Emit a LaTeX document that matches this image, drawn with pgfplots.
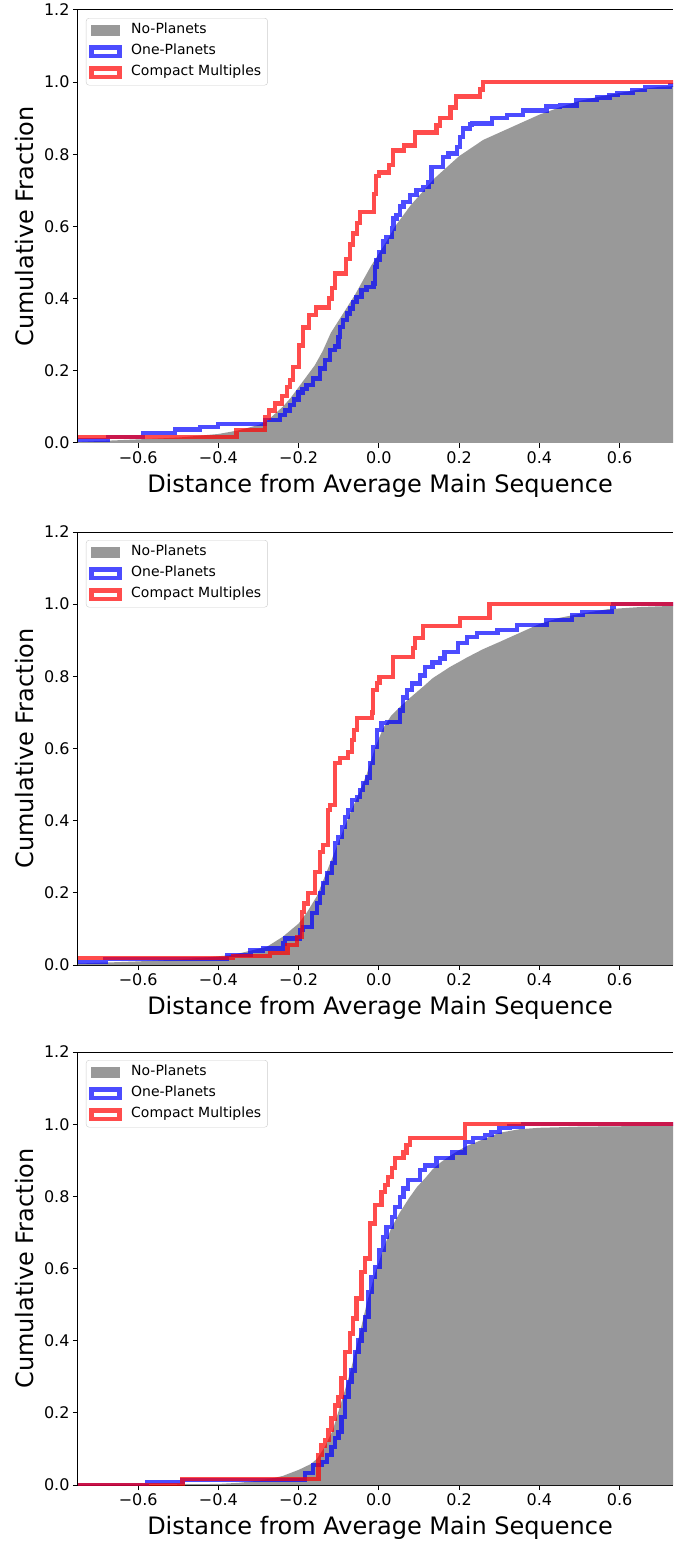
\documentclass[border=0pt]{standalone}
\usepackage{fontspec}
\setmainfont{DejaVu Sans}
\usepackage{pgfplots}
\pgfplotsset{compat=1.18}

\definecolor{npgray}{RGB}{153,153,153}
\definecolor{legframe}{RGB}{204,204,204}

% one panel = one axis, 1pt here is one pixel of the reference
\pgfplotsset{
  cdfpanel/.style={
    scale only axis, width=595pt, height=433pt,
    xmin=-0.75, xmax=0.733, ymin=0, ymax=1.2,
    axis x line*=box, axis y line*=left,
    axis line style={black, line width=1pt, -},
    xtick={-0.6,-0.4,-0.2,0,0.2,0.4,0.6},
    xticklabels={−0.6,−0.4,−0.2,0.0,0.2,0.4,0.6},
    ytick={0,0.2,0.4,0.6,0.8,1.0,1.2},
    yticklabels={0.0,0.2,0.4,0.6,0.8,1.0,1.2},
    xtick pos=lower, ytick pos=left,
    tick align=outside, major tick length=5pt,
    every tick/.style={black, line width=1pt},
    tick label style={font=\fontsize{16}{19}\selectfont},
    xlabel={Distance from Average Main Sequence},
    ylabel={Cumulative Fraction},
    label style={font=\fontsize{24}{29}\selectfont},
    xlabel style={at={(axis description cs:0.5076,-0.1132)}, anchor=base},
    ylabel style={at={(axis description cs:-0.089,0.5)}, anchor=center},
    legend cell align=left,
    legend style={at={(axis description cs:0.0134,0.9815)}, anchor=north west,
      draw=legframe, fill=white, rounded corners=3pt,
      font=\fontsize{14}{17}\selectfont,
      nodes={inner sep=3.5pt, text height=9.5pt, text depth=4.5pt},
      /tikz/every odd column/.append style={column sep=6pt}},
  },
  noplan/.style={draw=none, fill=npgray,
    legend image code/.code={\fill[npgray, sharp corners] (0pt,-5.5pt) rectangle (29pt,5.5pt);}},
  oneplan/.style={const plot, mark=none, blue, opacity=0.7, line width=4.5pt, line join=miter,
    legend image code/.code={\draw[blue, opacity=0.7, line width=4.5pt, sharp corners] (0.5pt,-4.25pt) rectangle (28.5pt,4.25pt);}},
  compact/.style={const plot, mark=none, red, opacity=0.7, line width=4.5pt, line join=miter,
    legend image code/.code={\draw[red, opacity=0.7, line width=4.5pt, sharp corners] (0.5pt,-4.25pt) rectangle (28.5pt,4.25pt);}},
}

\begin{document}
\begin{tikzpicture}

% ---------------- top panel ----------------
\begin{axis}[cdfpanel]
\addplot[noplan] coordinates {
(-0.75,0.003) (-0.6,0.01) (-0.5,0.015) (-0.4,0.025) (-0.35,0.035) (-0.3,0.05)
(-0.28,0.06) (-0.26,0.08) (-0.24,0.10) (-0.22,0.125) (-0.2,0.155) (-0.18,0.185)
(-0.16,0.215) (-0.14,0.255) (-0.12,0.305) (-0.1,0.34) (-0.08,0.375) (-0.06,0.41)
(-0.04,0.45) (-0.02,0.49) (0.0,0.525) (0.02,0.56) (0.04,0.60) (0.06,0.63)
(0.08,0.66) (0.1,0.685) (0.12,0.71) (0.14,0.735) (0.16,0.755) (0.18,0.775)
(0.2,0.795) (0.22,0.81) (0.24,0.825) (0.26,0.84) (0.3,0.86) (0.35,0.885)
(0.4,0.91) (0.45,0.93) (0.5,0.948) (0.55,0.96) (0.6,0.97) (0.65,0.98)
(0.7,0.987) (0.75,0.99)
} \closedcycle;
\addlegendentry{No-Planets}
\addplot[oneplan] coordinates {
(-0.75,0.008) (-0.675,0.017) (-0.588,0.028) (-0.508,0.038) (-0.446,0.045) (-0.401,0.052)
(-0.284,0.064) (-0.247,0.078) (-0.234,0.09) (-0.222,0.105) (-0.212,0.12) (-0.200,0.14)
(-0.190,0.15) (-0.180,0.161) (-0.164,0.179) (-0.147,0.207) (-0.134,0.230) (-0.122,0.258)
(-0.110,0.267) (-0.101,0.294) (-0.097,0.322) (-0.089,0.341) (-0.080,0.359) (-0.072,0.373)
(-0.064,0.391) (-0.056,0.405) (-0.043,0.424) (-0.031,0.433) (-0.014,0.442) (-0.010,0.488)
(-0.006,0.507) (0.002,0.530) (0.011,0.558) (0.019,0.571) (0.032,0.595) (0.036,0.622)
(0.044,0.632) (0.052,0.655) (0.061,0.668) (0.077,0.687) (0.094,0.701) (0.110,0.710)
(0.123,0.724) (0.131,0.765) (0.160,0.793) (0.173,0.802) (0.194,0.821) (0.202,0.848)
(0.210,0.872) (0.227,0.882) (0.232,0.886) (0.282,0.900) (0.319,0.909) (0.359,0.922)
(0.418,0.932) (0.451,0.936) (0.493,0.950) (0.543,0.957) (0.575,0.964) (0.595,0.970)
(0.632,0.978) (0.663,0.987) (0.725,0.992) (0.75,0.992)
};
\addlegendentry{One-Planets}
\addplot[compact] coordinates {
(-0.75,0.017) (-0.355,0.036) (-0.284,0.07) (-0.274,0.09) (-0.259,0.11) (-0.242,0.13)
(-0.229,0.155) (-0.222,0.175) (-0.214,0.21) (-0.199,0.27) (-0.189,0.32) (-0.174,0.355)
(-0.157,0.375) (-0.125,0.40) (-0.117,0.43) (-0.110,0.47) (-0.082,0.51) (-0.072,0.55)
(-0.065,0.58) (-0.055,0.61) (-0.047,0.64) (-0.012,0.69) (-0.007,0.74) (0.000,0.75)
(0.025,0.77) (0.035,0.81) (0.062,0.825) (0.090,0.86) (0.144,0.88) (0.152,0.90)
(0.179,0.93) (0.192,0.96) (0.252,0.98) (0.259,1.0) (0.75,1.0)
};
\addlegendentry{Compact Multiples}
\end{axis}

% ---------------- middle panel ----------------
\begin{axis}[cdfpanel, at={(0pt,-522pt)}]
\addplot[noplan] coordinates {
(-0.75,0.004) (-0.6,0.01) (-0.5,0.015) (-0.42,0.022) (-0.364,0.028) (-0.3,0.045)
(-0.28,0.05) (-0.24,0.078) (-0.2,0.115) (-0.18,0.145) (-0.155,0.19) (-0.135,0.245)
(-0.115,0.30) (-0.09,0.37) (-0.072,0.42) (-0.05,0.475) (-0.03,0.53) (-0.01,0.60)
(0.01,0.655) (0.03,0.69) (0.052,0.715) (0.075,0.738) (0.095,0.757) (0.115,0.776)
(0.134,0.795) (0.155,0.81) (0.177,0.826) (0.2,0.84) (0.219,0.852) (0.259,0.875)
(0.3,0.895) (0.35,0.92) (0.4,0.945) (0.45,0.962) (0.5,0.973) (0.57,0.986)
(0.65,0.992) (0.75,0.996)
} \closedcycle;
\addlegendentry{No-Planets}
\addplot[oneplan] coordinates {
(-0.75,0.009) (-0.682,0.016) (-0.379,0.028) (-0.320,0.04) (-0.289,0.046) (-0.239,0.06)
(-0.234,0.074) (-0.197,0.097) (-0.189,0.105) (-0.167,0.144) (-0.154,0.172) (-0.147,0.2)
(-0.139,0.227) (-0.129,0.255) (-0.117,0.283) (-0.110,0.338) (-0.102,0.355) (-0.092,0.382)
(-0.085,0.41) (-0.077,0.43) (-0.067,0.457) (-0.055,0.466) (-0.047,0.485) (-0.040,0.504)
(-0.030,0.52) (-0.022,0.56) (-0.015,0.604) (-0.005,0.651) (0.007,0.67) (0.020,0.673)
(0.052,0.706) (0.060,0.742) (0.070,0.762) (0.082,0.78) (0.102,0.803) (0.115,0.826)
(0.134,0.839) (0.152,0.85) (0.164,0.867) (0.197,0.892) (0.219,0.909) (0.244,0.92)
(0.296,0.928) (0.344,0.942) (0.418,0.956) (0.481,0.97) (0.508,0.978) (0.581,0.992)
(0.585,1.0) (0.75,1.0)
};
\addlegendentry{One-Planets}
\addplot[compact] coordinates {
(-0.75,0.02) (-0.364,0.025) (-0.272,0.033) (-0.228,0.055) (-0.204,0.078) (-0.192,0.147)
(-0.187,0.17) (-0.177,0.2) (-0.159,0.258) (-0.147,0.313) (-0.139,0.332) (-0.127,0.43)
(-0.122,0.443) (-0.110,0.56) (-0.097,0.573) (-0.077,0.59) (-0.067,0.623) (-0.062,0.651)
(-0.055,0.684) (-0.017,0.70) (-0.015,0.762) (-0.005,0.781) (0.002,0.798) (0.035,0.853)
(0.085,0.878) (0.090,0.906) (0.110,0.94) (0.202,0.961) (0.276,1.0) (0.75,1.0)
};
\addlegendentry{Compact Multiples}
\end{axis}

% ---------------- bottom panel ----------------
\begin{axis}[cdfpanel, at={(0pt,-1042pt)}]
\addplot[noplan] coordinates {
(-0.75,0.0) (-0.4,0.003) (-0.35,0.006) (-0.3,0.012) (-0.26,0.02) (-0.24,0.025)
(-0.2,0.042) (-0.17,0.058) (-0.155,0.072) (-0.135,0.105) (-0.115,0.152) (-0.095,0.225)
(-0.072,0.31) (-0.05,0.41) (-0.03,0.504) (-0.01,0.585) (0.01,0.651) (0.03,0.71)
(0.052,0.755) (0.075,0.795) (0.095,0.826) (0.115,0.85) (0.134,0.875) (0.155,0.895)
(0.177,0.912) (0.2,0.928) (0.22,0.94) (0.26,0.958) (0.3,0.976) (0.35,0.986)
(0.4,0.99) (0.5,0.993) (0.75,0.996)
} \closedcycle;
\addlegendentry{No-Planets}
\addplot[oneplan] coordinates {
(-0.75,0.0) (-0.578,0.009) (-0.49,0.014) (-0.184,0.033) (-0.164,0.055) (-0.142,0.064)
(-0.130,0.083) (-0.118,0.105) (-0.110,0.13) (-0.101,0.147) (-0.093,0.188) (-0.085,0.244)
(-0.076,0.285) (-0.068,0.318) (-0.060,0.368) (-0.051,0.40) (-0.043,0.429) (-0.035,0.466)
(-0.026,0.535) (-0.018,0.576) (-0.010,0.604) (0.002,0.651) (0.011,0.687) (0.019,0.715)
(0.032,0.743) (0.040,0.77) (0.052,0.798) (0.061,0.822) (0.073,0.845) (0.102,0.873)
(0.115,0.886) (0.144,0.906) (0.184,0.922) (0.214,0.95) (0.234,0.961) (0.264,0.97)
(0.281,0.978) (0.301,0.989) (0.326,0.994) (0.359,1.0) (0.75,1.0)
};
\addlegendentry{One-Planets}
\addplot[compact] coordinates {
(-0.75,0.0) (-0.49,0.016) (-0.151,0.083) (-0.143,0.11) (-0.134,0.125) (-0.126,0.152)
(-0.118,0.185) (-0.110,0.221) (-0.101,0.244) (-0.093,0.296) (-0.085,0.368) (-0.072,0.42)
(-0.064,0.462) (-0.056,0.517) (-0.043,0.59) (-0.035,0.628) (-0.022,0.725) (-0.010,0.776)
(0.007,0.812) (0.015,0.831) (0.023,0.853) (0.032,0.878) (0.040,0.906) (0.061,0.922)
(0.069,0.942) (0.077,0.961) (0.214,1.0) (0.75,1.0)
};
\addlegendentry{Compact Multiples}
\end{axis}

\pgfresetboundingbox
\path[use as bounding box] (-78pt,443pt) rectangle (595pt,-1098pt);
\end{tikzpicture}
\end{document}
